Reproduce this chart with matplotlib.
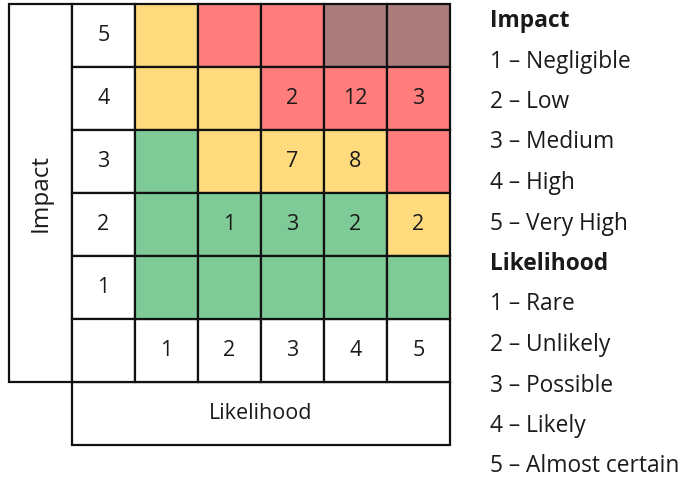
import numpy as np
import matplotlib
matplotlib.use("Agg")
import matplotlib.pyplot as plt
import matplotlib.patches as pat

# risk matrix: rows are impact 5 (top) .. 1, columns are likelihood 1..5
impact_levels = [5, 4, 3, 2, 1]
likelihood_levels = [1, 2, 3, 4, 5]
impact_labels = ["Negligible", "Low", "Medium", "High", "Very High"]
likelihood_labels = ["Rare", "Unlikely", "Possible", "Likely", "Almost certain"]

# colour class of each cell: G green, Y yellow, R red, B brown
zones = [
    ["Y", "R", "R", "B", "B"],
    ["Y", "Y", "R", "R", "R"],
    ["G", "Y", "Y", "Y", "R"],
    ["G", "G", "G", "G", "Y"],
    ["G", "G", "G", "G", "G"],
]
# number of risks in each cell (0 = blank)
counts = [
    [0, 0, 0, 0, 0],
    [0, 0, 2, 12, 3],
    [0, 0, 7, 8, 0],
    [0, 1, 3, 2, 2],
    [0, 0, 0, 0, 0],
]

zone_colors = {"G": "#7fcb98", "Y": "#ffdb7d", "R": "#ff7d7d", "B": "#ab7c7c"}

font = ["Open Sans", "DejaVu Sans"]
fs = 15.5
W, H = 693, 478
cell = 63.0
x0, y0 = 9, 4

fig = plt.figure(figsize=(W / 100, H / 100), dpi=100)
ax = fig.add_axes([0, 0, 1, 1])
ax.set_xlim(-x0 / cell, (W - x0) / cell)
ax.set_ylim((H - y0) / cell, -y0 / cell)
ax.axis("off")

lw = 1.6
ec = "#111111"
tc = "#1a1a1a"

# Impact side box and Likelihood bottom box
ax.add_patch(pat.Rectangle((0, 0), 1, 6, fc="white", ec=ec, lw=lw))
ax.add_patch(pat.Rectangle((1, 6), 6, 1, fc="white", ec=ec, lw=lw))
ax.text(0.5, 3, "Impact", rotation=90, ha="center", va="center",
        fontsize=17.5, family=font, color=tc)
ax.text(4, 6.5, "Likelihood", ha="center", va="center",
        fontsize=fs, family=font, color=tc)

# row labels
for r, imp in enumerate(impact_levels):
    ax.add_patch(pat.Rectangle((1, r), 1, 1, fc="white", ec=ec, lw=lw))
    ax.text(1.5, r + 0.5, str(imp), ha="center", va="center",
            fontsize=fs, family=font, color=tc)

# column labels
ax.add_patch(pat.Rectangle((1, 5), 1, 1, fc="white", ec=ec, lw=lw))
for c, lik in enumerate(likelihood_levels):
    ax.add_patch(pat.Rectangle((2 + c, 5), 1, 1, fc="white", ec=ec, lw=lw))
    ax.text(2.5 + c, 5.5, str(lik), ha="center", va="center",
            fontsize=fs, family=font, color=tc)

# coloured cells
for r in range(len(impact_levels)):
    for c in range(len(likelihood_levels)):
        ax.add_patch(pat.Rectangle((2 + c, r), 1, 1, fc=zone_colors[zones[r][c]],
                                   ec=ec, lw=lw))
        if counts[r][c]:
            ax.text(2.5 + c, r + 0.5, str(counts[r][c]), ha="center", va="center",
                    fontsize=fs, family=font, color=tc)

# legend text on the right
lines = [("Impact", True)]
lines += [("{0} \u2013 {1}".format(i + 1, t), False) for i, t in enumerate(impact_labels)]
lines += [("Likelihood", True)]
lines += [("{0} \u2013 {1}".format(i + 1, t), False) for i, t in enumerate(likelihood_labels)]
for k, (txt, bold) in enumerate(lines):
    fig.text(490 / W, 1 - (27 + 40.5 * k) / H, txt, ha="left", va="baseline",
             fontsize=16.4, family=font, color=tc,
             fontweight="bold" if bold else "normal")

plt.savefig("out.png", dpi=100)
plt.close()
